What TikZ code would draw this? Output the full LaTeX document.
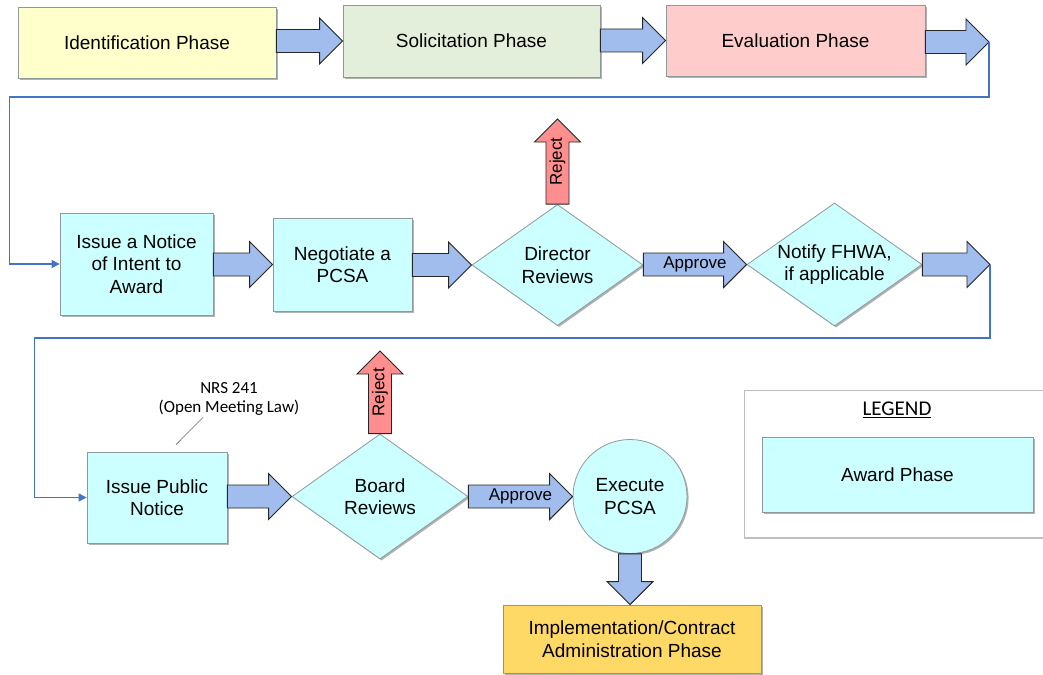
\documentclass[tikz,border=0pt]{standalone}
\usepackage{fontspec}
\setmainfont{Liberation Sans}
\newfontfamily\notefont{Carlito}
\usetikzlibrary{shapes.geometric,shadows,calc,arrows.meta}

\definecolor{idfill}{HTML}{FFFFCC}
\definecolor{solfill}{HTML}{E3EFDA}
\definecolor{evalfill}{HTML}{FFCCCC}
\definecolor{awardfill}{HTML}{CCFFFF}
\definecolor{implfill}{HTML}{FFD966}
\definecolor{impledge}{HTML}{A89A45}
\definecolor{boxedge}{HTML}{8E9A9A}
\definecolor{arrowfill}{HTML}{A0BDEE}
\definecolor{rejectfill}{HTML}{FF8F8F}
\definecolor{flowblue}{HTML}{4472C4}

% horizontal block arrow from #1 to the tip #2
\newcommand\blockright[2]{%
  \path[blockarrow] let \p1=(#1), \p2=(#2) in
    (\x1,\y2+11.5pt) -- (\x2-23pt,\y2+11.5pt) -- (\x2-23pt,\y2+23pt) -- (\x2,\y2)
    -- (\x2-23pt,\y2-23pt) -- (\x2-23pt,\y2-11.5pt) -- (\x1,\y2-11.5pt) -- cycle;}
% upward block arrow from #1 to the tip #2
\newcommand\blockup[2]{%
  \path[rejectarrow] let \p1=(#1), \p2=(#2) in
    (\x1-11.5pt,\y1) -- (\x1-11.5pt,\y2-23pt) -- (\x1-23pt,\y2-23pt) -- (\x1,\y2)
    -- (\x1+23pt,\y2-23pt) -- (\x1+11.5pt,\y2-23pt) -- (\x1+11.5pt,\y1) -- cycle;}
% downward block arrow from #1 to the tip #2
\newcommand\blockdown[2]{%
  \path[blockarrow] let \p1=(#1), \p2=(#2) in
    (\x1-11.5pt,\y1) -- (\x1-11.5pt,\y2+23pt) -- (\x1-23pt,\y2+23pt) -- (\x1,\y2)
    -- (\x1+23pt,\y2+23pt) -- (\x1+11.5pt,\y2+23pt) -- (\x1+11.5pt,\y1) -- cycle;}

\begin{document}
\begin{tikzpicture}[x=1pt,y=-1pt,
  softshadow/.style={drop shadow={shadow xshift=1.6pt,shadow yshift=-1.6pt,fill=black!55,opacity=.55}},
  box/.style={rectangle, draw=boxedge, line width=0.8pt, inner sep=0pt, align=center,
    font=\fontsize{19}{22.5}\selectfont, softshadow},
  decision/.style={diamond, aspect=1.42, draw=boxedge, line width=0.8pt, fill=awardfill, inner sep=0pt,
    align=center, font=\fontsize{19}{22.5}\selectfont, softshadow},
  terminal/.style={circle, draw=boxedge, line width=0.8pt, fill=awardfill, inner sep=0pt,
    align=center, font=\fontsize{19}{22.5}\selectfont, softshadow},
  blockarrow/.style={draw=black!85, line width=0.9pt, fill=arrowfill, line join=miter},
  rejectarrow/.style={blockarrow, fill=rejectfill},
  arrowtext/.style={font=\fontsize{17}{20}\selectfont, inner sep=0pt},
  flow/.style={draw=flowblue, line width=1.2pt, -{Triangle[length=8pt,width=8pt]}},
  note/.style={font=\notefont\fontsize{17}{18.5}\selectfont, align=center, inner sep=1pt}
]
\clip (0,0) rectangle (1043,674);
\fill[white] (0,0) rectangle (1043,674);

% ---- first row: earlier phases
\node[box, fill=idfill, minimum width=258pt, minimum height=71pt] (ident) at (147,42.5) {Identification Phase};
\node[box, fill=solfill, minimum width=257pt, minimum height=72pt] (solic) at (471.5,41) {Solicitation Phase};
\node[box, fill=evalfill, minimum width=259pt, minimum height=71pt] (eval) at (795.5,40.5) {Evaluation Phase};
\coordinate (t1) at (989,42);

% ---- second row: award steps
\node[box, fill=awardfill, minimum width=153pt, minimum height=102pt] (notice) at (136.5,264) {Issue a Notice\\of Intent to\\Award};
\node[box, fill=awardfill, minimum width=139pt, minimum height=93pt] (negot) at (342.5,264.5) {Negotiate a\\PCSA};
\node[decision, minimum width=171pt, minimum height=121pt] (director) at (557.5,265) {Director\\Reviews};
\node[decision, minimum width=175pt, minimum height=123pt] (fhwa) at (834.5,264.5) {Notify FHWA,\\if applicable};
\coordinate (rej1) at (557.5,119);
\coordinate (t2) at (990,264.5);

% ---- third row
\node[box, fill=awardfill, minimum width=140pt, minimum height=91pt] (public) at (157,497.5) {Issue Public\\Notice};
\node[note] (nrs) at (229,399) {NRS 241\\(Open Meeting Law)};
\node[decision, minimum width=176pt, minimum height=125pt] (board) at (380,496.5) {Board\\Reviews};
\node[terminal, minimum size=114pt] (execute) at (630,496.5) {Execute\\PCSA};
\coordinate (rej2) at (380,351);
\node[box, fill=implfill, draw=impledge, minimum width=258pt, minimum height=68pt] (impl) at (632,639) {Implementation/Contract\\Administration Phase};

% ---- legend
\draw[draw=black!25, line width=1pt, drop shadow={shadow xshift=0pt,shadow yshift=-1.5pt,fill=black!40,opacity=.6}, fill=white]
  (744,390) rectangle (1060,537);
\node[font=\notefont\fontsize{21}{24}\selectfont, inner sep=0pt] (legtitle) at (897,410) {\underline{LEGEND}};
\node[box, fill=awardfill, minimum width=271pt, minimum height=75pt] (legaward) at (897.5,474.5) {Award Phase};

% ---- block arrows
\blockright{ident.east}{solic.west}
\blockright{solic.east}{eval.west}
\blockright{eval.east}{t1}
\blockright{notice.east}{negot.west}
\blockright{negot.east}{director.west}
\blockright{director.east}{fhwa.west}
\node[arrowtext] (appr1) at ($(director.east)!0.5!(fhwa.west)$) {Approve};
\blockright{fhwa.east}{t2}
\blockup{director.north}{rej1}
\node[arrowtext, rotate=90] (rejtext1) at ($(director.north)!0.5!(rej1)$) {Reject};
\blockright{public.east}{board.west}
\blockright{board.east}{execute.west}
\node[arrowtext] (appr2) at ($(board.east)!0.5!(execute.west)$) {Approve};
\blockup{board.north}{rej2}
\node[arrowtext, rotate=90] (rejtext2) at ($(board.north)!0.5!(rej2)$) {Reject};
\blockdown{execute.south}{impl.north}

% ---- wrap-around connectors
\draw[flow] (t1) -- ++(0,55) -| ([xshift=-50pt]notice.west) -- (notice.west);
\draw[flow] (t2) -- ++(0,73.5) -| ([xshift=-52pt]public.west) -- (public.west);

% ---- note leader
\draw[black!60, line width=0.6pt] ([xshift=-26pt,yshift=-1pt]nrs.south) -- ([xshift=19pt,yshift=7pt]public.north);
\end{tikzpicture}
\end{document}
